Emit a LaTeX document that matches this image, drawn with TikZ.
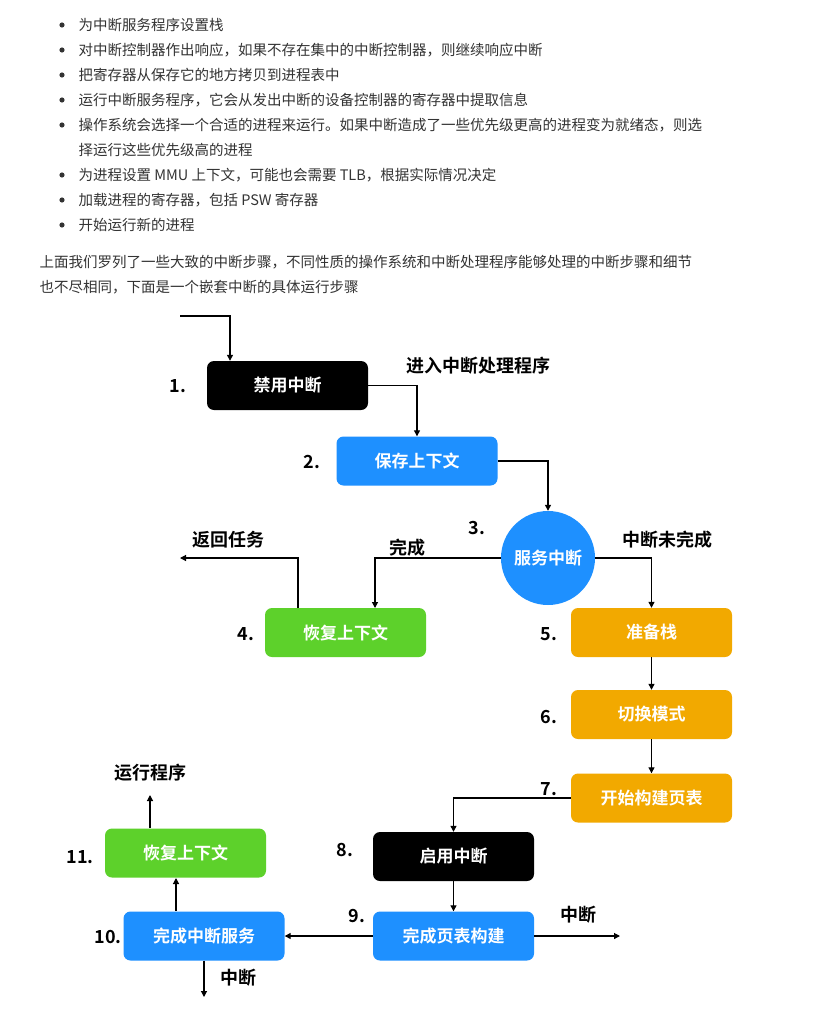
\documentclass[tikz,border=0pt]{standalone}
\usepackage{fontspec}
\setmainfont{Noto Sans CJK SC}
\newfontfamily\cjkb{Noto Sans CJK SC Bold}
\usetikzlibrary{arrows.meta}
\definecolor{tx}{HTML}{333333}
\definecolor{cb}{HTML}{1E90FF}
\definecolor{cg}{HTML}{5DD12B}
\definecolor{co}{HTML}{F2A900}
\tikzset{
 box/.style={rounded corners=7pt,minimum width=161pt,minimum height=49pt,text=white,font=\cjkb\fontsize{17}{17}\selectfont,inner sep=0},
 lab/.style={font=\cjkb\fontsize{18}{18}\selectfont,text=black},
 ar/.style={-{Triangle[length=6pt,width=6pt]},line width=1.2pt},
 ln/.style={line width=1.2pt},
 bl/.style={anchor=west,font=\fontsize{14.5}{14.5}\selectfont,text=tx},
}
\begin{document}
\begin{tikzpicture}[x=1pt,y=-1pt]
\useasboundingbox (0,0) rectangle (819,1022);
\fill[white] (0,0) rectangle (819,1022);
% bullets
\foreach \y/\t [count=\i] in {25/为中断服务程序设置栈,50/{对中断控制器作出响应，如果不存在集中的中断控制器，则继续响应中断},75/把寄存器从保存它的地方拷贝到进程表中,100/{运行中断服务程序，它会从发出中断的设备控制器的寄存器中提取信息},125/{操作系统会选择一个合适的进程来运行。如果中断造成了一些优先级更高的进程变为就绪态，则选},175/{为进程设置 MMU 上下文，可能也会需要 TLB，根据实际情况决定},200/{加载进程的寄存器，包括 PSW 寄存器},225/开始运行新的进程}{
 \fill[tx] (62,\y) circle (2.6pt);
 \node[bl] (b\i) at (75,\y) {\t};
}
\node[bl] (b9) at (75,150) {择运行这些优先级高的进程};
\node[bl] (p1) at (36,262) {上面我们罗列了一些大致的中断步骤，不同性质的操作系统和中断处理程序能够处理的中断步骤和细节};
\node[bl] (p2) at (36,287) {也不尽相同，下面是一个嵌套中断的具体运行步骤};
% nodes
\node[box,fill=black] (n1) at (287.5,385.5) {禁用中断};
\node[box,fill=cb] (n2) at (417,461) {保存上下文};
\node[circle,fill=cb,minimum size=94pt,inner sep=0,text=white,font=\cjkb\fontsize{17}{17}\selectfont] (n3) at (548,558) {服务中断};
\node[box,fill=cg] (n4) at (345.5,632.5) {恢复上下文};
\node[box,fill=co] (n5) at (651.5,632.5) {准备栈};
\node[box,fill=co] (n6) at (651.5,714.5) {切换模式};
\node[box,fill=co] (n7) at (651.5,798) {开始构建页表};
\node[box,fill=black] (n8) at (453.5,856.5) {启用中断};
\node[box,fill=cb] (n9) at (453.5,936) {完成页表构建};
\node[box,fill=cb] (n10) at (204,936) {完成中断服务};
\node[box,fill=cg] (n11) at (185.5,853) {恢复上下文};
% labels
\node[lab] at (178,386) {1.};
\node[lab] at (312,462) {2.};
\node[lab] at (477,528) {3.};
\node[lab] at (246,634) {4.};
\node[lab] at (549,634) {5.};
\node[lab] at (549,717) {6.};
\node[lab] at (549,789) {7.};
\node[lab] at (345,850) {8.};
\node[lab] at (357,916) {9.};
\node[lab] at (108,937) {10.};
\node[lab] at (80,857) {11.};
\node[lab] at (478,366) {进入中断处理程序};
\node[lab] at (667,540) {中断未完成};
\node[lab] at (407,548) {完成};
\node[lab] at (228,540) {返回任务};
\node[lab] at (578,915) {中断};
\node[lab] at (238,978) {中断};
\node[lab] at (150,773) {运行程序};
% connectors
\coordinate (s0) at (180,316);
\draw[ar] (s0) -| (n1.north-|230,0);
\draw[ar] (n1.east) -| (n2.north);
\draw[ar] (n2.east) -| (n3.north);
\draw[ar] (n3.east) -| (n5.north);
\draw[ar] (n3.west) -| (375,608);
\coordinate (rt) at (180,558);
\draw[ar] (298,608) |- (rt);
\draw[ar] (n5) -- (n6);
\draw[ar] (n6) -- (n7);
\draw[ar] (n7.west) -| (n8.north);
\draw[ar] (n8) -- (n9);
\coordinate (o9) at (620,936);
\draw[ar] (n9.east) -- (o9);
\draw[ar] (n9.west) -- (n10.east);
\coordinate (o10) at (204,997);
\draw[ar] (n10.south) -- (o10);
\draw[ar] (176,911) -- (176,878);
\coordinate (o11) at (150,795);
\draw[ar] (150,828) -- (o11);
\end{tikzpicture}
\end{document}
